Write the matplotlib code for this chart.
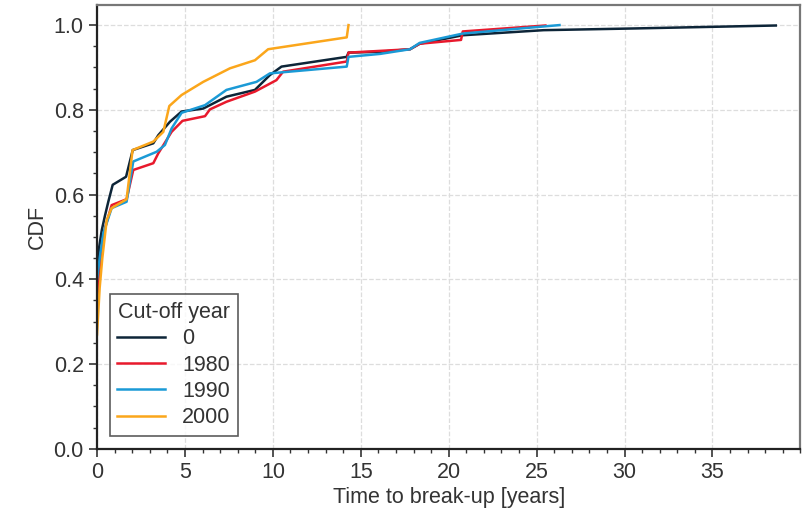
import matplotlib
matplotlib.use("Agg")
import matplotlib.pyplot as plt
from matplotlib.ticker import MultipleLocator

# CDF of time to break-up
x_0 = [0, 0.1, 0.27, 0.45, 0.64, 0.89, 1.65, 2.03, 3.2, 3.48, 4.15, 4.81, 6.04, 7.36, 8.98,
       9.83, 10.49, 14.2, 14.3, 16.1, 17.8, 18.35, 20.8, 25.4, 30.5, 38.6]
y_0 = [0.42, 0.47, 0.516, 0.55, 0.583, 0.623, 0.642, 0.705, 0.721, 0.74, 0.772, 0.796, 0.803,
       0.831, 0.847, 0.882, 0.902, 0.925, 0.935, 0.937, 0.943, 0.956, 0.976, 0.988, 0.992, 0.999]

x_1980 = [0, 0.17, 0.45, 0.83, 1.68, 2.06, 3.2, 3.48, 4.24, 4.86, 6.14, 6.42, 7.36, 8.98,
          10.2, 10.58, 14.2, 14.3, 17.8, 18.35, 20.7, 20.8, 25.5]
y_1980 = [0.35, 0.43, 0.52, 0.575, 0.589, 0.658, 0.674, 0.697, 0.748, 0.774, 0.785, 0.801,
          0.819, 0.843, 0.870, 0.89, 0.914, 0.935, 0.943, 0.956, 0.965, 0.985, 0.999]

x_1990 = [0, 0.15, 0.36, 0.83, 1.68, 2.06, 3.39, 3.86, 4.24, 4.81, 6.14, 7.36, 9.07, 9.83,
          14.2, 14.3, 16.1, 17.8, 18.35, 20.8, 26.3]
y_1990 = [0.4, 0.45, 0.509, 0.568, 0.583, 0.678, 0.701, 0.717, 0.756, 0.793, 0.811, 0.847,
          0.866, 0.886, 0.902, 0.925, 0.932, 0.943, 0.958, 0.98, 1.0]

x_2000 = [0, 0.15, 0.3, 0.55, 0.83, 1.68, 2.02, 3.2, 3.77, 4.11, 4.81, 6.04, 7.56, 8.98,
          9.73, 14.2, 14.3]
y_2000 = [0.27, 0.38, 0.45, 0.54, 0.568, 0.589, 0.705, 0.725, 0.748, 0.809, 0.835, 0.866,
          0.898, 0.917, 0.943, 0.971, 1.0]

labels = ["0", "1980", "1990", "2000"]
colors = ["#0d2538", "#e8192c", "#1b9ad6", "#fba61b"]

plt.rcParams["font.family"] = ["Liberation Sans", "DejaVu Sans"]

fig = plt.figure(figsize=(8.02, 5.17), dpi=100)
ax = fig.add_axes([0.121, 0.132, 0.877, 0.858])

series = [(x_0, y_0), (x_1980, y_1980), (x_1990, y_1990), (x_2000, y_2000)]
for (xs, ys), lab, col in zip(series, labels, colors):
    ax.plot(xs, ys, color=col, lw=1.8, label=lab)

ax.set_xlim(0, 40)
ax.set_ylim(0, 1.047)
ax.xaxis.set_major_locator(MultipleLocator(5))
ax.xaxis.set_minor_locator(MultipleLocator(1))
ax.yaxis.set_major_locator(MultipleLocator(0.2))
ax.yaxis.set_minor_locator(MultipleLocator(0.05))
ax.set_xticks([0, 5, 10, 15, 20, 25, 30, 35])
ax.tick_params(which="major", direction="out", length=6, width=1.2, color="#333333",
               labelsize=15.5, labelcolor="#333333")
ax.tick_params(which="minor", direction="out", length=3, width=1, color="#333333")
ax.grid(True, which="major", ls="--", color="#dddddd", lw=0.9)
ax.set_axisbelow(True)

for side in ["left", "bottom"]:
    ax.spines[side].set_color("#222222")
    ax.spines[side].set_linewidth(1.6)
for side in ["top", "right"]:
    ax.spines[side].set_color("#777777")
    ax.spines[side].set_linewidth(1.6)

ax.set_xlabel("Time to break-up [years]", fontsize=15.5, color="#333333", labelpad=3)
ax.set_ylabel("CDF", fontsize=15.5, color="#333333")

leg = ax.legend(title="Cut-off year", loc="lower left", fontsize=15.5, title_fontsize=15.5,
                fancybox=False, frameon=True, borderaxespad=0.6, handlelength=2.2,
                labelspacing=0.25, borderpad=0.35)
leg.get_frame().set_edgecolor("#333333")
leg.get_frame().set_linewidth(1.2)
for t in leg.get_texts():
    t.set_color("#333333")
leg.get_title().set_color("#333333")

fig.savefig("out.png", dpi=100)
